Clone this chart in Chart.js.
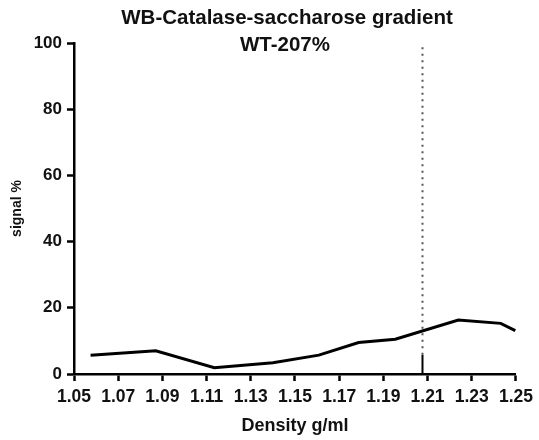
<!DOCTYPE html>
<html>
<head>
<meta charset="utf-8">
<script src="https://cdn.jsdelivr.net/npm/chart.js@4"></script>
<style>
  html, body { margin: 0; padding: 0; background: #fff; }
  canvas { display: block; }
</style>
</head>
<body>
<canvas id="myChart" width="539" height="440"></canvas>
<script>
// values
var titleLines = ["WB-Catalase-saccharose gradient", "WT-207%"];
var density = [1.0575, 1.087, 1.1135, 1.14, 1.1608, 1.1788, 1.1954, 1.2239, 1.2431, 1.2497];
var signal = [5.7, 7.0, 1.9, 3.4, 5.7, 9.5, 10.5, 16.3, 15.3, 13.1];
var xTicks = [1.05, 1.07, 1.09, 1.11, 1.13, 1.15, 1.17, 1.19, 1.21, 1.23, 1.25];
var yTicks = [0, 20, 40, 60, 80, 100];
var markerX = 1.2077;
var markerDotted = [5.8, 100];
var markerSolid = [0, 5.8];

var FONT = "'Liberation Sans', Arial, Helvetica, sans-serif";

var points = density.map(function(d, i){ return {x: d, y: signal[i]}; });

// title centred a bit right of the canvas middle, like the original
var titlePlugin = {
	id: 'twoLineTitle',
	afterDraw: function(chart){
		var c = chart.ctx;
		c.save();
		c.fillStyle = '#111';
		c.font = 'bold 20.5px ' + FONT;
		c.textAlign = 'center';
		c.textBaseline = 'alphabetic';
		c.fillText(titleLines[0], 287, 24);
		c.fillText(titleLines[1], 285, 51);
		c.restore();
	}
};

var ctx = document.getElementById('myChart').getContext('2d');
var myChart = new Chart(ctx, {
	type: 'scatter',
	data: {
		datasets: [
			{
				data: points,
				showLine: true,
				borderColor: '#000',
				borderWidth: 3,
				pointRadius: 0,
				tension: 0
			},
			{
				data: markerDotted.map(function(v){ return {x: markerX, y: v}; }),
				showLine: true,
				borderColor: '#555',
				borderWidth: 2,
				borderDash: [2, 4.5],
				pointRadius: 0
			},
			{
				data: markerSolid.map(function(v){ return {x: markerX, y: v}; }),
				showLine: true,
				borderColor: '#000',
				borderWidth: 2,
				pointRadius: 0
			}
		]
	},
	options: {
		responsive: false,
		animation: false,
		layout: { padding: { top: 43, right: 21, left: 0, bottom: 0 } },
		plugins: {
			legend: { display: false },
			tooltip: { enabled: false }
		},
		scales: {
			x: {
				type: 'linear',
				min: 1.05,
				max: 1.25,
				afterBuildTicks: function(axis){
					axis.ticks = xTicks.map(function(v){ return {value: v}; });
				},
				afterFit: function(axis){ axis.height = 66; },
				ticks: {
					color: '#111',
					padding: 6,
					maxRotation: 0,
					autoSkip: false,
					font: { family: FONT, size: 17.5, weight: 'bold' },
					callback: function(v){ return Number(v).toFixed(2); }
				},
				grid: {
					drawOnChartArea: false,
					drawTicks: true,
					tickLength: 7,
					tickWidth: 2.5,
					tickColor: '#000'
				},
				border: { display: true, color: '#000', width: 2.5 },
				title: {
					display: true,
					text: 'Density g/ml',
					color: '#111',
					padding: { top: 0, bottom: 3 },
					font: { family: FONT, size: 18, weight: 'bold' }
				}
			},
			y: {
				min: 0,
				max: 100,
				afterBuildTicks: function(axis){
					axis.ticks = yTicks.map(function(v){ return {value: v}; });
				},
				afterFit: function(axis){ axis.width = 74; },
				ticks: {
					color: '#111',
					padding: 5,
					font: { family: FONT, size: 17, weight: 'bold' }
				},
				grid: {
					drawOnChartArea: false,
					drawTicks: true,
					tickLength: 7,
					tickWidth: 2.5,
					tickColor: '#000'
				},
				border: { display: true, color: '#000', width: 2.5 },
				title: {
					display: true,
					text: 'signal %',
					color: '#111',
					padding: { top: 9, bottom: 0 },
					font: { family: FONT, size: 14, weight: 'bold' }
				}
			}
		}
	},
	plugins: [titlePlugin]
});
</script>
</body>
</html>
